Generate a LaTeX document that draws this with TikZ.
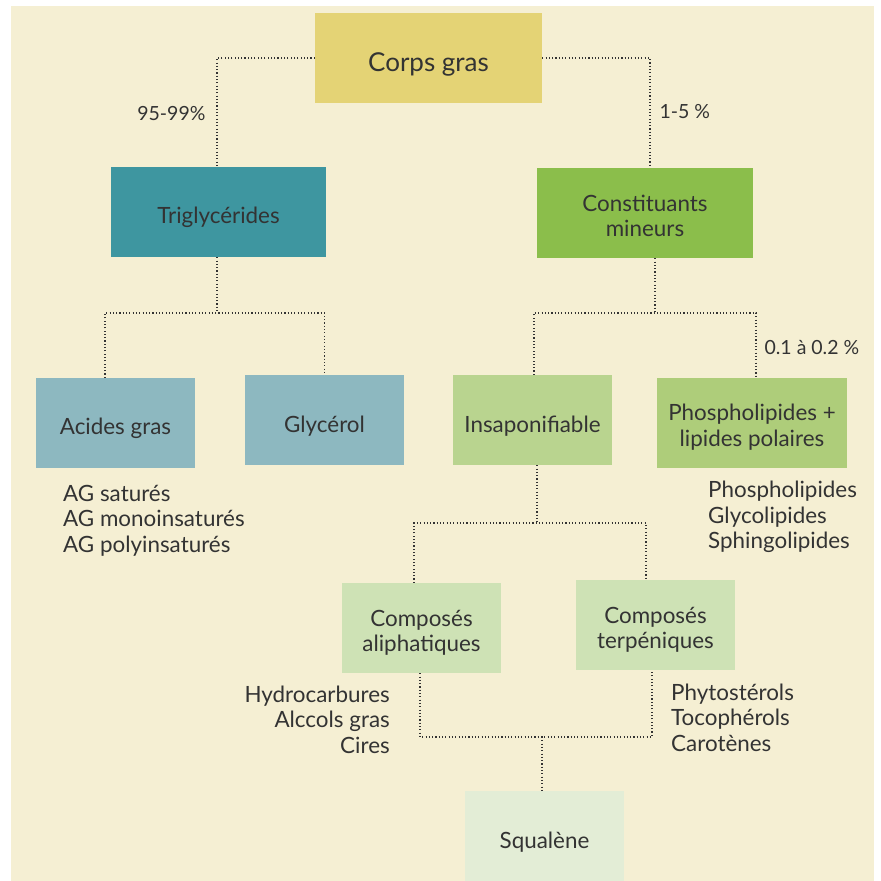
\documentclass[tikz,border=0pt]{standalone}
\usepackage{fontspec}
\setmainfont{Lato}
\definecolor{bgcream}{HTML}{F5EFD3}
\definecolor{inkgray}{HTML}{333333}
\definecolor{corpsfill}{HTML}{E4D375}
\definecolor{trigfill}{HTML}{3E96A0}
\definecolor{constfill}{HTML}{8BBE4B}
\definecolor{bluefill}{HTML}{8DB8C0}
\definecolor{insapfill}{HTML}{B9D48F}
\definecolor{phosfill}{HTML}{AECD7A}
\definecolor{composefill}{HTML}{CEE2B5}
\definecolor{squalfill}{HTML}{E3EDD6}

\begin{document}
\begin{tikzpicture}
  [x=1pt,y=-1pt,
    every node/.style={text=inkgray,font=\fontsize{22.4}{25.5}\selectfont},
    box/.style={minimum width=159pt,minimum height=90pt,inner sep=0pt,align=center,
      execute at begin node={\rule{0pt}{1.25em}}},
    boxtext/.style={inner sep=0pt,align=center},
    link/.style={draw=inkgray,line width=1.1pt,dash pattern=on 1.1pt off 2.2pt},
    pct/.style={font=\fontsize{19.5}{22}\selectfont},
    list/.style={align=left,inner sep=0pt,font=\fontsize{22.4}{25.5}\selectfont},
]
  \useasboundingbox (0,0) rectangle (881,881);
  \fill[white] (0,0) rectangle (881,881);
  \fill[bgcream] (11,6) rectangle (874,881);

  % boxes
  \node[box,fill=corpsfill,minimum width=227pt,font=\fontsize{26}{28}\selectfont] (corps) at (428.5,58) {Corps gras};
  \node[box,fill=trigfill,minimum width=215pt] (trig) at (218.5,212) {Triglycérides};
  \node[box,fill=constfill,minimum width=216pt] (const) at (645,213) {};
  \node[box,fill=bluefill] (acides) at (115.5,423) {Acides gras};
  \node[box,fill=bluefill] (glyc) at (324.5,420) {Glycérol};
  \node[box,fill=insapfill] (insap) at (532.5,420) {Insaponifiable};
  \node[box,fill=phosfill,minimum width=190pt] (phos) at (752,423) {};
  \node[box,fill=composefill] (aliph) at (421.5,628) {};
  \node[box,fill=composefill] (terp) at (655.5,625) {};
  \node[box,fill=squalfill] (squal) at (544.5,836) {Squalène};

  % two-line texts
  \node[boxtext] (const-txt) at ([yshift=-3pt]const.center) {Constituants\\mineurs};
  \node[boxtext] (phos-txt) at ([yshift=-4pt]phos.center) {Phospholipides +\\lipides polaires};
  \node[boxtext] (aliph-txt) at ([yshift=-5pt]aliph.center) {Composés\\aliphatiques};
  \node[boxtext] (terp-txt) at ([yshift=-5pt]terp.center) {Composés\\terpéniques};

  % junctions
  \coordinate (tj) at (217,313);
  \coordinate (cj) at (655,313);
  \coordinate (ij) at (537,523);
  \coordinate (sj) at (542,737);

  \draw[link] (corps.west) -| ([xshift=-1.5pt]trig.north);
  \draw[link] (corps.east) -| ([xshift=5pt]const.north);
  \draw[link] ([xshift=-1.5pt]trig.south) -- (tj);
  \draw[link] ([xshift=-10.5pt]acides.north) |- (tj) -| (glyc.north);
  \draw[link] ([xshift=10pt]const.south) -- (cj);
  \draw[link] ([xshift=1.5pt]insap.north) |- (cj) -| ([xshift=4pt]phos.north);
  \draw[link] ([xshift=4.5pt]insap.south) -- (ij);
  \draw[link] ([xshift=-7.5pt]aliph.north) |- (ij) -| ([xshift=-9.5pt]terp.north);
  \draw[link] ([xshift=-1.5pt]aliph.south) |- (sj) -| ([xshift=-3.5pt]terp.south);
  \draw[link] (sj) -- (squal.north -| sj);

  % labels
  \node[pct,anchor=east] (l9599) at (209,114) {95-99\%};
  \node[pct,anchor=west] (l15) at (656,111.5) {1-5 \%};
  \node[pct,anchor=west] (l0102) at (761,348) {0.1 à 0.2 \%};

  \node[list,anchor=base west] (agl) at (63,552) {AG saturés\\AG monoinsaturés\\AG polyinsaturés};
  \node[list,anchor=base west] (phl) at (708,548.5) {Phospholipides\\Glycolipides\\Sphingolipides};
  \node[list,anchor=base east,align=right] (alil) at (390,753) {Hydrocarbures\\Alccols gras\\Cires};
  \node[list,anchor=base west] (terl) at (671,751) {Phytostérols\\Tocophérols\\Carotènes};
\end{tikzpicture}
\end{document}
